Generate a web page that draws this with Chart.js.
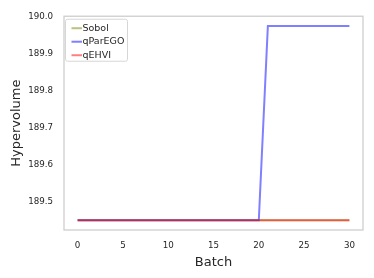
<!DOCTYPE html>
<html>
<head>
<meta charset="utf-8">
<script src="https://cdn.jsdelivr.net/npm/chart.js@4"></script>
<style>
  body { margin: 0; background: #fff; }
  canvas { display: block; }
</style>
</head>
<body>
<canvas id="grafico" width="374" height="278"></canvas>
<script>
// Datos
const batches = [0, 1, 2, 3, 4, 5, 6, 7, 8, 9, 10, 11, 12, 13, 14, 15, 16, 17, 18, 19, 20, 21, 22, 23, 24, 25, 26, 27, 28, 29, 30];
const sobol = [189.449, 189.449, 189.449, 189.449, 189.449, 189.449, 189.449, 189.449, 189.449, 189.449, 189.449, 189.449, 189.449, 189.449, 189.449, 189.449, 189.449, 189.449, 189.449, 189.449, 189.449, 189.449, 189.449, 189.449, 189.449, 189.449, 189.449, 189.449, 189.449, 189.449, 189.449];
const qParEGO = [189.449, 189.449, 189.449, 189.449, 189.449, 189.449, 189.449, 189.449, 189.449, 189.449, 189.449, 189.449, 189.449, 189.449, 189.449, 189.449, 189.449, 189.449, 189.449, 189.449, 189.449, 189.975, 189.975, 189.975, 189.975, 189.975, 189.975, 189.975, 189.975, 189.975, 189.975];
const qEHVI = [189.449, 189.449, 189.449, 189.449, 189.449, 189.449, 189.449, 189.449, 189.449, 189.449, 189.449, 189.449, 189.449, 189.449, 189.449, 189.449, 189.449, 189.449, 189.449, 189.449, 189.449, 189.449, 189.449, 189.449, 189.449, 189.449, 189.449, 189.449, 189.449, 189.449, 189.449];
const xTicks = [0, 5, 10, 15, 20, 25, 30];
const yTicks = [189.5, 189.6, 189.7, 189.8, 189.9, 190.0];

const fuente = 'DejaVu Sans';
const gris = '#262626';

// Marco gris alrededor del area del grafico
const marco = {
  id: 'marco',
  afterDatasetsDraw(chart) {
    const a = chart.chartArea;
    const ctx = chart.ctx;
    ctx.save();
    ctx.strokeStyle = '#cccccc';
    ctx.lineWidth = 1.25;
    ctx.strokeRect(a.left, a.top, a.right - a.left, a.bottom - a.top);
    ctx.restore();
  }
};

// Leyenda dentro del grafico, arriba a la izquierda
const leyenda = {
  id: 'leyenda',
  afterDraw(chart) {
    const a = chart.chartArea;
    const ctx = chart.ctx;
    const x0 = a.left + 1.5, y0 = a.top + 3;
    const w = 62, h = 42;
    ctx.save();
    ctx.beginPath();
    ctx.roundRect(x0, y0, w, h, 2);
    ctx.fillStyle = 'rgba(255,255,255,0.8)';
    ctx.fill();
    ctx.strokeStyle = '#d6d6d6';
    ctx.lineWidth = 1;
    ctx.stroke();
    ctx.font = '9.5px "' + fuente + '"';
    ctx.textBaseline = 'middle';
    chart.data.datasets.forEach((ds, i) => {
      const y = y0 + 9 + i * 13.5;
      ctx.beginPath();
      ctx.moveTo(x0 + 6, y);
      ctx.lineTo(x0 + 16.5, y);
      ctx.strokeStyle = ds.borderColor;
      ctx.lineWidth = 2;
      ctx.stroke();
      ctx.fillStyle = gris;
      ctx.fillText(ds.label, x0 + 17, y);
    });
    ctx.restore();
  }
};

const ctx = document.getElementById('grafico').getContext('2d');
const myChart = new Chart(ctx, {
  type: 'line',
  data: {
    labels: batches,
    datasets: [
      { label: 'Sobol', data: sobol, borderColor: 'rgba(128,128,0,0.5)', order: 3 },
      { label: 'qParEGO', data: qParEGO, borderColor: 'rgba(0,0,255,0.5)', order: 2 },
      { label: 'qEHVI', data: qEHVI, borderColor: 'rgba(255,0,0,0.5)', order: 1 }
    ]
  },
  options: {
    responsive: false,
    animation: false,
    layout: { padding: { left: 0, right: 11, top: 11, bottom: 0 } },
    elements: {
      point: { radius: 0 },
      line: { borderWidth: 2, tension: 0, fill: false }
    },
    plugins: {
      legend: { display: false },
      tooltip: { enabled: false }
    },
    scales: {
      x: {
        type: 'linear',
        min: -1.5,
        max: 31.5,
        afterBuildTicks: s => { s.ticks = xTicks.map(v => ({ value: v })); },
        afterFit: s => { s.height = 48; },
        grid: { display: false, drawTicks: false },
        border: { display: false },
        ticks: {
          padding: 11,
          color: gris,
          font: { family: fuente, size: 8.7 },
          maxRotation: 0,
          callback: v => String(v)
        },
        title: {
          display: true,
          text: 'Batch',
          color: gris,
          font: { family: fuente, size: 13 },
          padding: { top: 0, bottom: 8 }
        }
      },
      y: {
        min: 189.4225,
        max: 190.0013,
        afterBuildTicks: s => { s.ticks = yTicks.map(v => ({ value: v })); },
        afterFit: s => { s.width = 64; },
        grid: { display: false, drawTicks: false },
        border: { display: false },
        ticks: {
          padding: 11,
          color: gris,
          font: { family: fuente, size: 8.7 },
          callback: v => v.toFixed(1)
        },
        title: {
          display: true,
          text: 'Hypervolume',
          color: gris,
          font: { family: fuente, size: 13 },
          padding: { top: 9, bottom: 0 }
        }
      }
    }
  },
  plugins: [marco, leyenda]
});
</script>
</body>
</html>
